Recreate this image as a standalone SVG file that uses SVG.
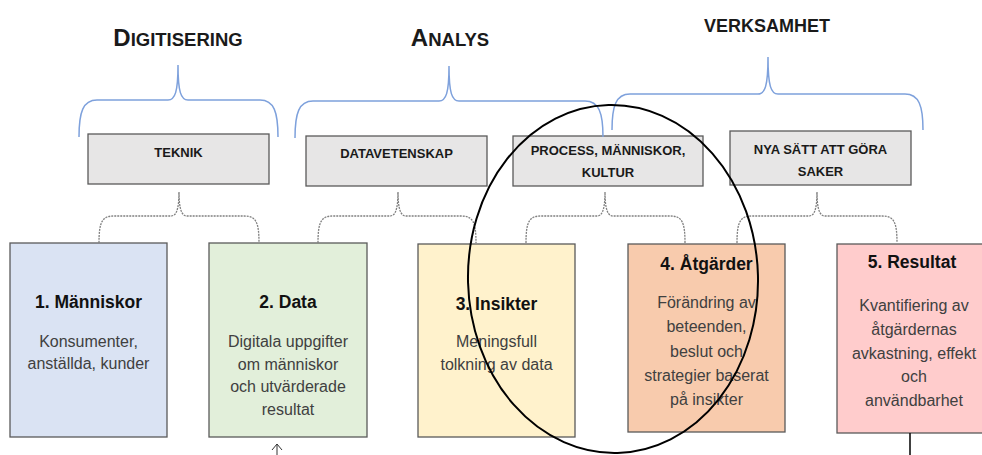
<svg xmlns="http://www.w3.org/2000/svg" width="982" height="455" viewBox="0 0 982 455">
  <style>
    .head { font-family: "Liberation Sans", Arial, sans-serif; font-weight: bold; fill: #1a1a1a; text-anchor: middle; }
    .cat { fill: #e7e6e6; stroke: #5a5a5a; stroke-width: 1.3; }
    .cat-label { font-family: "Liberation Sans", Arial, sans-serif; font-weight: bold; font-size: 13px; fill: #1a1a1a; text-anchor: middle; }
    .step { stroke: #5a5a5a; stroke-width: 1.3; }
    .step-title { font-family: "Liberation Sans", Arial, sans-serif; font-weight: bold; font-size: 17.5px; fill: #111; text-anchor: middle; }
    .step-body { font-family: "Liberation Sans", Arial, sans-serif; font-size: 16px; fill: #404040; text-anchor: middle; }
    .brace-blue { fill: none; stroke: #7ea1dc; stroke-width: 1.5; }
    .brace-dash { fill: none; stroke: #808080; stroke-width: 1.3; stroke-dasharray: 2 1; }
  </style>
  <defs>
    <!-- open chevron head, drawn along +x so orient="auto" turns it with the line -->
    <marker id="arrowOpen" viewBox="0 0 10 12" refX="9" refY="6" markerWidth="10" markerHeight="12" markerUnits="userSpaceOnUse" orient="auto">
      <path d="M3,1 L9,6 L3,11" fill="none" stroke="#333" stroke-width="1"/>
    </marker>
  </defs>

  <rect width="982" height="455" fill="#ffffff"/>

  <!-- Stage headings -->
  <g id="heading-digitisering">
    <text class="head" x="178" y="46"><tspan font-size="24">D</tspan><tspan font-size="18.5">IGITISERING</tspan></text>
  </g>
  <g id="heading-analys">
    <text class="head" x="450" y="46"><tspan font-size="24">A</tspan><tspan font-size="18.5">NALYS</tspan></text>
  </g>
  <g id="heading-verksamhet">
    <text class="head" x="767" y="32" font-size="18">VERKSAMHET</text>
  </g>

  <!-- Category boxes -->
  <g id="cat-teknik">
    <rect class="cat" x="88" y="134" width="181" height="50"/>
    <text class="cat-label" x="178.5" y="157">TEKNIK</text>
  </g>
  <g id="cat-datavetenskap">
    <rect class="cat" x="306" y="136" width="181" height="50"/>
    <text class="cat-label" x="396.5" y="158">DATAVETENSKAP</text>
  </g>
  <g id="cat-process">
    <rect class="cat" x="513" y="136" width="190" height="50"/>
    <text class="cat-label" x="608" y="155">PROCESS, MÄNNISKOR,</text>
    <text class="cat-label" x="608" y="177">KULTUR</text>
  </g>
  <g id="cat-nya-satt">
    <rect class="cat" x="730" y="131" width="181" height="54"/>
    <text class="cat-label" x="820.5" y="154">NYA SÄTT ATT GÖRA</text>
    <text class="cat-label" x="820.5" y="176">SAKER</text>
  </g>

  <!-- Step boxes -->
  <g id="step-manniskor">
    <rect class="step" x="10" y="243" width="157" height="194" fill="#dae3f3"/>
    <text class="step-title" x="88.5" y="308">1. Människor</text>
    <text class="step-body" x="88.5" y="347">Konsumenter,</text>
    <text class="step-body" x="88.5" y="369">anställda, kunder</text>
  </g>
  <g id="step-data">
    <rect class="step" x="209" y="243" width="158" height="194" fill="#e2efda"/>
    <text class="step-title" x="288" y="308">2. Data</text>
    <text class="step-body" x="288" y="347">Digitala uppgifter</text>
    <text class="step-body" x="288" y="369.5">om människor</text>
    <text class="step-body" x="288" y="392">och utvärderade</text>
    <text class="step-body" x="288" y="414.5">resultat</text>
  </g>
  <g id="step-insikter">
    <rect class="step" x="418" y="244" width="157" height="193" fill="#fff2cc"/>
    <text class="step-title" x="496.5" y="310">3. Insikter</text>
    <text class="step-body" x="496.5" y="347">Meningsfull</text>
    <text class="step-body" x="496.5" y="370">tolkning av data</text>
  </g>
  <g id="step-atgarder">
    <rect class="step" x="628" y="244" width="157" height="188" fill="#f8cbad"/>
    <text class="step-title" x="706.5" y="270">4. Åtgärder</text>
    <text class="step-body" x="706.5" y="308">Förändring av</text>
    <text class="step-body" x="706.5" y="332">beteenden,</text>
    <text class="step-body" x="706.5" y="356.5">beslut och</text>
    <text class="step-body" x="706.5" y="381">strategier baserat</text>
    <text class="step-body" x="706.5" y="405">på insikter</text>
  </g>
  <g id="step-resultat">
    <rect class="step" x="837" y="244" width="157" height="189" fill="#ffcccc"/>
    <text class="step-title" x="912" y="268">5. Resultat</text>
    <text class="step-body" x="914" y="311">Kvantifiering av</text>
    <text class="step-body" x="914" y="335">åtgärdernas</text>
    <text class="step-body" x="914" y="358.5">avkastning, effekt</text>
    <text class="step-body" x="914" y="382">och</text>
    <text class="step-body" x="914" y="405.5">användbarhet</text>
  </g>

  <!-- Connectors: grouping braces and leads -->
  <g id="connectors">
    <!-- stage braces (blue) -->
    <path class="brace-blue" d="M79,137 C79,112 83,100 97,100 L168,100 C175,100 178,92 178,65 C178,92 181,100 188,100 L260,100 C274,100 278,112 278,137"/>
    <path class="brace-blue" d="M295,138 C295,113 299,101 313,101 L439,101 C446,101 449,93 449,66 C449,93 452,101 459,101 L585,101 C599,101 603,113 603,137"/>
    <path class="brace-blue" d="M612,130 C612,106 616,94 630,94 L758,94 C765,94 768,86 768,57 C768,86 771,94 778,94 L905,94 C919,94 923,106 923,130"/>

    <!-- category braces (dashed grey) -->
    <path class="brace-dash" d="M99,243 C99,222 102,216 114,216 L171,216 C176,216 179,210 179,192 C179,210 182,216 187,216 L244,216 C256,216 259,222 259,243"/>
    <path class="brace-dash" d="M318,243 C318,222 321,216 333,216 L390,216 C395,216 398,210 398,192 C398,210 401,216 406,216 L461,216 C473,216 476,222 476,243"/>
    <path class="brace-dash" d="M526,243 C526,222 529,216 541,216 L597,216 C602,216 605,210 605,192 C605,210 608,216 613,216 L670,216 C682,216 685,222 685,243"/>
    <path class="brace-dash" d="M737,243 C737,222 740,216 752,216 L809,216 C814,216 817,210 817,192 C817,210 820,216 825,216 L882,216 C894,216 897,222 897,243"/>

    <!-- leads below the step boxes -->
    <line x1="277" y1="456" x2="277" y2="444" stroke="#333" stroke-width="1" marker-end="url(#arrowOpen)"/>
    <line x1="910" y1="433" x2="910" y2="455" stroke="#111" stroke-width="1.6"/>
  </g>

  <!-- Highlight ring round insight and action -->
  <g id="highlight-ring">
    <ellipse cx="613" cy="279" rx="145" ry="174" transform="rotate(-1.5 613 279)" fill="none" stroke="#000" stroke-width="2"/>
  </g>
</svg>
